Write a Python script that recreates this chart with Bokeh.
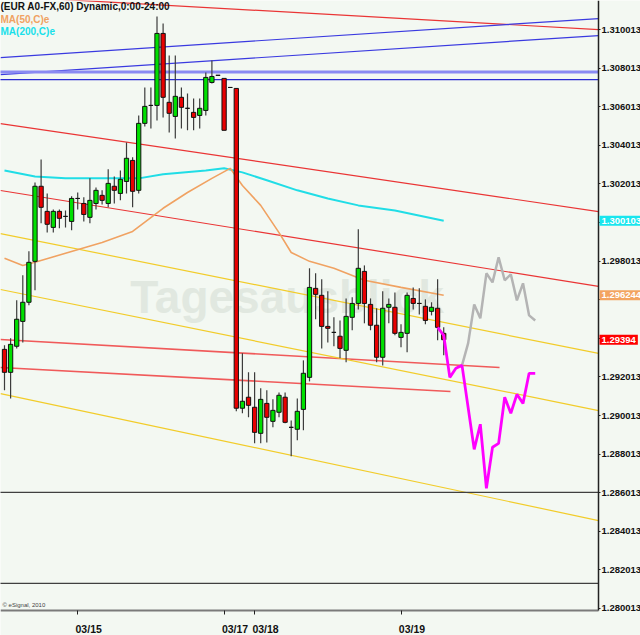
from bokeh.plotting import figure
from bokeh.models import (Range1d, LinearAxis, FixedTicker, NumeralTickFormatter,
                          Label, ColumnDataSource)
from bokeh.embed import file_html
from bokeh.resources import INLINE

FONT = "Liberation Sans"
BG = "#f3f8f2"

# ---------------- data (EUR A0-FX, 60 min bars) ----------------
opens = [1.29344, 1.29225, 1.29360, 1.29489, 1.29588, 1.29800, 1.30189, 1.30059, 1.29976, 1.30059,
         1.30033, 1.30007, 1.30126, 1.30100, 1.30028, 1.30100, 1.30142, 1.30100, 1.30189, 1.30152,
         1.30214, 1.30323, 1.30168, 1.30515, 1.30608, 1.30608, 1.30981, 1.30624, 1.30551, 1.30650,
         1.30593, 1.30572, 1.30556, 1.30582, 1.30727, 1.30764, 1.30748, 1.30701, 1.30696, 1.29039,
         1.29096, 1.29044, 1.28909, 1.29064, 1.28971, 1.29018, 1.29096, 1.28940, 1.28930, 1.29033,
         1.29199, 1.29660, 1.29624, 1.29463, 1.29432, 1.29412, 1.29339, 1.29510, 1.29582, 1.29748,
         1.29577, 1.29469, 1.29303, 1.29562, 1.29562, 1.29406, 1.29427, 1.29608, 1.29582, 1.29567,
         1.29541, 1.29557, 1.29427]
closes = [1.29225, 1.29370, 1.29500, 1.29588, 1.29795, 1.30189, 1.30080, 1.29992, 1.30059, 1.30023,
          1.30033, 1.30126, 1.30126, 1.30043, 1.30116, 1.30168, 1.30116, 1.30204, 1.30168, 1.30225,
          1.30334, 1.30163, 1.30515, 1.30603, 1.30608, 1.30981, 1.30650, 1.30567, 1.30655, 1.30598,
          1.30593, 1.30546, 1.30593, 1.30753, 1.30758, 1.30764, 1.30479, 1.30701, 1.29039, 1.29075,
          1.29054, 1.28914, 1.29085, 1.28992, 1.29028, 1.29106, 1.28966, 1.28940, 1.29023, 1.29220,
          1.29665, 1.29629, 1.29463, 1.29453, 1.29432, 1.29349, 1.29515, 1.29582, 1.29764, 1.29582,
          1.29469, 1.29303, 1.29557, 1.29577, 1.29427, 1.29432, 1.29624, 1.29582, 1.29582, 1.29494,
          1.29562, 1.29458, 1.29394]
highs = [1.29365, 1.29401, 1.29598, 1.29728, 1.29852, 1.30209, 1.30328, 1.30152, 1.30069, 1.30069,
         1.30064, 1.30137, 1.30157, 1.30132, 1.30230, 1.30183, 1.30168, 1.30277, 1.30240, 1.30271,
         1.30416, 1.30339, 1.30556, 1.30701, 1.30701, 1.31069, 1.31033, 1.30867, 1.30867, 1.30701,
         1.30670, 1.30644, 1.30644, 1.30779, 1.30841, 1.30764, 1.30748, 1.30701, 1.30696, 1.29324,
         1.29225, 1.29225, 1.29142, 1.29132, 1.29085, 1.29121, 1.29121, 1.28976, 1.29090, 1.29287,
         1.29764, 1.29738, 1.29707, 1.29645, 1.29510, 1.29494, 1.29608, 1.29614, 1.29966, 1.29779,
         1.29608, 1.29557, 1.29645, 1.29608, 1.29639, 1.29474, 1.29639, 1.29665, 1.29660, 1.29603,
         1.29588, 1.29707, 1.29458]
lows = [1.29132, 1.29090, 1.29349, 1.29380, 1.29572, 1.29650, 1.29997, 1.29950, 1.29950, 1.29971,
        1.29976, 1.29961, 1.30069, 1.30007, 1.29997, 1.30069, 1.30095, 1.30080, 1.30100, 1.30116,
        1.30152, 1.30080, 1.30152, 1.30499, 1.30489, 1.30530, 1.30546, 1.30468, 1.30437, 1.30489,
        1.30479, 1.30479, 1.30489, 1.30556, 1.30722, 1.30764, 1.30479, 1.30701, 1.29023, 1.29013,
        1.28992, 1.28857, 1.28857, 1.28862, 1.28940, 1.28992, 1.28961, 1.28790, 1.28873, 1.28925,
        1.29178, 1.29500, 1.29349, 1.29380, 1.29360, 1.29298, 1.29277, 1.29443, 1.29551, 1.29479,
        1.29443, 1.29277, 1.29261, 1.29479, 1.29417, 1.29355, 1.29329, 1.29551, 1.29525, 1.29474,
        1.29520, 1.29391, 1.29313]

# moving averages (bar index, value)
ma50_x = [0, 3, 5, 10, 16, 21, 26, 30, 34, 37, 39, 42, 45, 47, 50, 54, 59, 65, 72]
ma50_y = [1.29816, 1.29779, 1.29795, 1.29842, 1.29898, 1.29955, 1.30075, 1.30157, 1.30230, 1.30282,
          1.30193, 1.30090, 1.29949, 1.29846, 1.29800, 1.29764, 1.29702, 1.29665, 1.29624]
ma200_x = [0, 5, 10, 16, 22, 26, 33, 36, 39, 43, 48, 53, 58, 64, 72]
ma200_y = [1.30271, 1.30240, 1.30230, 1.30230, 1.30230, 1.30251, 1.30271, 1.30282, 1.30261, 1.30220,
           1.30168, 1.30126, 1.30090, 1.30064, 1.30010]

# projected paths
pink_x = [71, 72, 73, 74, 75, 77, 78, 79, 80, 81, 82, 83, 84, 85, 86, 87]
pink_y = [1.29458, 1.29417, 1.29199, 1.29246, 1.29261, 1.28826, 1.28956, 1.28624, 1.28837, 1.28857,
          1.29096, 1.29013, 1.29111, 1.29064, 1.29220, 1.29220]
gray_x = [75, 76, 77, 78, 79, 80, 81, 82, 83, 84, 85, 86, 87]
gray_y = [1.29261, 1.29375, 1.29577, 1.29505, 1.29738, 1.29691, 1.29821, 1.29702, 1.29733, 1.29598,
          1.29686, 1.29520, 1.29494]

# drawn trend lines (bar index / price endpoints)
red_x0 = [-0.66, -0.66, -0.66, -0.66, -0.66]
red_y0 = [1.31175, 1.30514, 1.30167, 1.29395, 1.29250]
red_x1 = [97.38, 97.38, 97.38, 81.15, 73.11]
red_y1 = [1.31001, 1.30058, 1.29670, 1.29250, 1.29126]
blue_x0 = [-0.66, -0.66]
blue_y0 = [1.30856, 1.30768]
blue_x1 = [97.38, 97.38]
blue_y1 = [1.31058, 1.30970]
yel_x0 = [-0.66, -0.66, -0.66]
yel_y0 = [1.29944, 1.29654, 1.29115]
yel_x1 = [97.38, 97.38, 97.38]
yel_y1 = [1.29323, 1.29027, 1.28457]
level_blue_wide = 1.30781
level_blue = 1.30742
level_black = [1.28603, 1.28131]

price_ticks = [1.280013, 1.282013, 1.284013, 1.286013, 1.288013, 1.290013, 1.292013, 1.294013,
               1.296013, 1.298013, 1.300013, 1.302013, 1.304013, 1.306013, 1.308013, 1.310013]
hidden_price_ticks = [1.294013, 1.296013, 1.300013]   # covered by the last-value boxes
date_ticks = [12, 36, 41, 65]
date_labels = ["03/15", "03/17", "03/18", "03/19"]

last_ma200 = 1.300103
last_ma50 = 1.296244
last_close = 1.29394

# chart area limits (last visible bar slot / lowest visible price)
x_end = 97.38
y_floor = 1.279909

# ---------------- figure ----------------
p = figure(frame_width=640, frame_height=635,
           x_range=Range1d(-0.656, 104.26), y_range=Range1d(1.278614, 1.311516),
           output_backend="svg", toolbar_location=None,
           x_axis_location=None, y_axis_location=None,
           min_border_left=0, min_border_top=0, min_border_right=0, min_border_bottom=0,
           background_fill_color=BG, border_fill_color=BG, outline_line_color=None)
p.xgrid.visible = False
p.ygrid.visible = False

# watermark
p.add_layout(Label(x=20.6, y=1.29613, text="Tagesausblick", text_font=FONT,
                   text_font_style="bold", text_font_size="46px", text_color="#e1e8e0",
                   text_baseline="middle", level="underlay"))

# trend lines
p.segment(x0=red_x0[:3], y0=red_y0[:3], x1=red_x1[:3], y1=red_y1[:3], line_color="#ea3535", line_width=1.2)
p.segment(x0=red_x0[3:], y0=red_y0[3:], x1=red_x1[3:], y1=red_y1[3:], line_color="#f05a5a", line_width=1.6)
p.segment(x0=blue_x0, y0=blue_y0, x1=blue_x1, y1=blue_y1, line_color="#3a3ae0", line_width=1.2)
p.segment(x0=yel_x0, y0=yel_y0, x1=yel_x1, y1=yel_y1, line_color="#f2cc2a", line_width=1.2)
p.segment(x0=[-1], y0=[level_blue_wide], x1=[x_end], y1=[level_blue_wide], line_color="#8a8af2", line_width=3)
p.segment(x0=[-1], y0=[level_blue], x1=[x_end], y1=[level_blue], line_color="#2a2ad0", line_width=1.2)
p.segment(x0=[-1, -1], y0=level_black, x1=[x_end, x_end], y1=level_black, line_color="#404040", line_width=1.2)

# moving averages
p.line(ma200_x, ma200_y, line_color="#20dde6", line_width=2)
p.line(ma50_x, ma50_y, line_color="#f0a262", line_width=1.6)

# candles
idx = list(range(len(opens)))
colors = ["#00e000" if c > o else ("#e80000" if c < o else "#000000") for o, c in zip(opens, closes)]
src = ColumnDataSource(dict(x=idx, h=highs, l=lows,
                            top=[max(o, c) for o, c in zip(opens, closes)],
                            bot=[min(o, c) for o, c in zip(opens, closes)],
                            color=colors))
p.segment(x0="x", y0="h", x1="x", y1="l", source=src, line_color="#3c3c3c", line_width=1.2)
p.vbar(x="x", width=0.7, top="top", bottom="bot", source=src, fill_color="color",
       line_color="#111111", line_width=1)

# projections
p.line(gray_x, gray_y, line_color="#b4b4b4", line_width=2.5)
p.line(pink_x, pink_y, line_color="#ff00ff", line_width=2.8)

# right price axis, pinned at the right edge of the chart area
yax = LinearAxis(ticker=FixedTicker(ticks=price_ticks), formatter=NumeralTickFormatter(format="0.000000"),
                 major_label_overrides={t: "" for t in hidden_price_ticks},
                 fixed_location=x_end, bounds=(y_floor, 1.32))
yax.axis_line_color = "#222222"
yax.axis_line_width = 1.5
yax.major_tick_out = 2
yax.major_tick_in = 0
yax.major_tick_line_color = "#222222"
yax.minor_tick_line_color = None
yax.major_label_standoff = 1
yax.major_label_text_font = FONT
yax.major_label_text_font_style = "bold"
yax.major_label_text_font_size = "9.5px"
yax.major_label_text_color = "#111111"
p.add_layout(yax, "right")

# bottom date axis (labels start at the tick mark)
label_pos = [t + 1.8 for t in date_ticks]
xax = LinearAxis(ticker=FixedTicker(ticks=label_pos, minor_ticks=date_ticks),
                 major_label_overrides=dict(zip(label_pos, date_labels)),
                 fixed_location=y_floor, bounds=(-1, x_end))
xax.major_tick_line_color = None
xax.major_tick_out = 0
xax.minor_tick_line_color = "#202020"
xax.minor_tick_out = 4
xax.minor_tick_in = 0
xax.axis_line_color = "#7a7a7a"
xax.axis_line_width = 2
xax.major_label_standoff = 8
xax.major_label_text_font = FONT
xax.major_label_text_font_style = "bold"
xax.major_label_text_font_size = "10.5px"
xax.major_label_text_color = "#111111"
p.add_layout(xax, "below")

# last-value boxes on the price axis
for val, bg, txt in [(last_ma200, "#18e6ee", f"{last_ma200:.6f}"),
                     (last_ma50, "#f3a460", f"{last_ma50:.6f}"),
                     (last_close, "#ff0000", f"{last_close:.5f}")]:
    p.add_layout(Label(x=599, x_units="screen", y=val, text=txt, text_font=FONT,
                       text_font_style="bold", text_font_size="9.5px", text_color="white",
                       text_baseline="middle", background_fill_color=bg, padding=2,
                       level="overlay"))

# title and legend
H = 635
p.add_layout(Label(x=0, y=H - 6, x_units="screen", y_units="screen",
                   text="(EUR A0-FX,60) Dynamic,0:00-24:00", text_font=FONT,
                   text_font_style="bold", text_font_size="10px", text_color="#111111",
                   text_baseline="middle"))
p.add_layout(Label(x=0, y=H - 19, x_units="screen", y_units="screen", text="MA(50,C)e",
                   text_font=FONT, text_font_style="bold", text_font_size="10px",
                   text_color="#f0a262", text_baseline="middle"))
p.add_layout(Label(x=0, y=H - 31, x_units="screen", y_units="screen", text="MA(200,C)e",
                   text_font=FONT, text_font_style="bold", text_font_size="10px",
                   text_color="#18e0ea", text_baseline="middle"))
p.add_layout(Label(x=2, y=H - 604, x_units="screen", y_units="screen", text="\u00a9 eSignal, 2010",
                   text_font=FONT, text_font_size="6px", text_color="#444444",
                   text_baseline="middle"))

open("out.html", "w").write(file_html(p, INLINE))
